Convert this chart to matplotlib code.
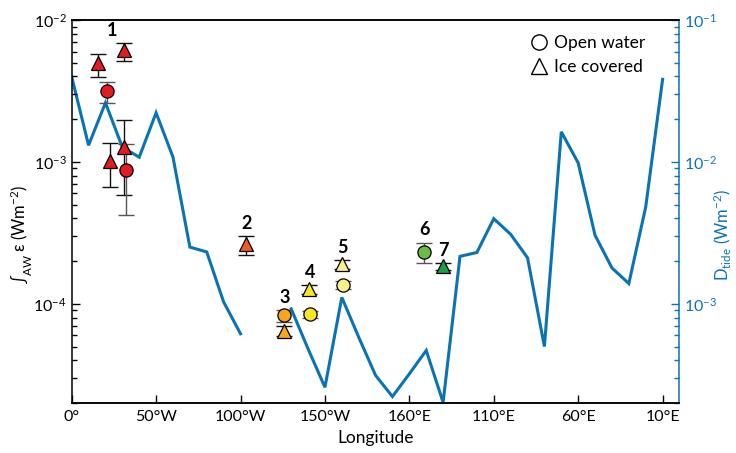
import numpy as np
import matplotlib
matplotlib.use("Agg")
import matplotlib.pyplot as plt
from matplotlib.lines import Line2D
from matplotlib.ticker import LogLocator, NullFormatter

plt.rcParams['font.family'] = ['Lato', 'DejaVu Sans']
plt.rcParams['mathtext.fontset'] = 'custom'
plt.rcParams['mathtext.rm'] = 'Lato'
plt.rcParams['mathtext.it'] = 'Lato:italic'
plt.rcParams['mathtext.bf'] = 'Lato:bold'

# ---------------- data ----------------
# tidal dissipation line (right axis), every 10 deg of "longitude distance"
tide_x = [0, 10, 20, 30, 40, 50, 60, 70, 80, 90, 100, 110, 120, 130, 140, 150,
          160, 170, 180, 190, 200, 210, 220, 230, 240, 250, 260, 270, 280, 290,
          300, 310, 320, 330, 340, 350]
tide_d = [0.0398, 0.0131, 0.0261, 0.0127, 0.0108, 0.0222, 0.0108, 0.00251,
          0.00232, 0.00103, 0.000615, np.nan, np.nan, 0.000922, 0.000482,
          0.000258, 0.00111, 0.000582, 0.000313, 0.000222, 0.000321, 0.000469,
          0.000202, 0.00216, 0.00230, 0.00398, 0.00309, 0.00211, 0.000500,
          0.0163, 0.00984, 0.00304, 0.00179, 0.00139, 0.00481, 0.0382]

# AW-integrated dissipation observations (left axis)
obs_site = [1, 1, 1, 1, 1, 1, 2, 3, 3, 4, 4, 5, 5, 6, 7]
obs_kind = ['ice', 'ice', 'open', 'ice', 'ice', 'open', 'ice', 'open', 'ice',
            'ice', 'open', 'ice', 'open', 'open', 'ice']
obs_x = [15.8, 31.2, 21.1, 22.7, 31.2, 32.2, 103.3, 126.0, 126.0, 140.8, 141.2,
         160.1, 160.5, 208.7, 220.1]
obs_val = [5.0e-3, 6.14e-3, 3.15e-3, 1.02e-3, 1.28e-3, 8.83e-4, 2.65e-4, 8.28e-5,
           6.41e-5, 1.28e-4, 8.41e-5, 1.92e-4, 1.36e-4, 2.32e-4, 1.84e-4]
obs_lo = [3.98e-3, 5.14e-3, 2.61e-3, 6.67e-4, 5.8e-4, 4.26e-4, 2.2e-4, 7.43e-5,
          5.9e-5, 1.18e-4, 7.9e-5, 1.77e-4, 1.27e-4, 1.94e-4, 1.74e-4]
obs_hi = [5.73e-3, 6.92e-3, 3.63e-3, 1.35e-3, 1.97e-3, 1.34e-3, 3.01e-4, 9.08e-5,
          7.0e-5, 1.35e-4, 8.95e-5, 2.02e-4, 1.45e-4, 2.70e-4, 1.94e-4]

site_colors = {1: '#e31b23', 2: '#f15a22', 3: '#f7a51c', 4: '#f7e723',
               5: '#faf08a', 6: '#6cbd45', 7: '#18a049'}

xtick_pos = [0, 50, 100, 150, 200, 250, 300, 350]
xtick_labels = ['0°', '50°W', '100°W', '150°W', '160°E', '110°E', '60°E', '10°E']

# ---------------- figure ----------------
BLUE = '#0a73b4'
fig = plt.figure(figsize=(7.36, 4.53), dpi=100)
ax = fig.add_axes([0.0974, 0.1104, 0.8258, 0.8454])
ax2 = ax.twinx()

ax2.plot(tide_x, tide_d, color=BLUE, lw=2.2, solid_joinstyle='miter', zorder=2)
ax2.set_yscale('log')
ax2.set_ylim(2e-4, 1e-1)

ax.set_zorder(ax2.get_zorder() + 1)
ax.patch.set_visible(False)

for i in range(len(obs_x)):
    c = site_colors[obs_site[i]]
    m = 'o' if obs_kind[i] == 'open' else '^'
    ecol = '#555555' if obs_kind[i] == 'open' else '#111111'
    yerr = [[obs_val[i] - obs_lo[i]], [obs_hi[i] - obs_val[i]]]
    ax.errorbar([obs_x[i]], [obs_val[i]], yerr=yerr, fmt='none', ecolor=ecol,
                elinewidth=1.0, capsize=5.5, capthick=1.0, zorder=3)
    ax.plot([obs_x[i]], [obs_val[i]], marker=m, ms=9.5 if m == 'o' else 10.5,
            mfc=c, mec='black', mew=0.9, ls='none', zorder=4)

# site labels above each group
obs_x_arr = np.array(obs_x)
obs_hi_arr = np.array(obs_hi)
obs_site_arr = np.array(obs_site)
for s in sorted(set(obs_site)):
    sel = obs_site_arr == s
    gx = (obs_x_arr[sel].min() + obs_x_arr[sel].max()) / 2
    gy = obs_hi_arr[sel].max()
    ax.annotate(str(s), (gx, gy), xytext=(0, 3), textcoords='offset points',
                ha='center', va='bottom', fontsize=13, fontweight='bold')

ax.set_yscale('log')
ax.set_ylim(2e-5, 1e-2)
ax.set_xlim(0, 360)
ax.set_xticks(xtick_pos)
ax.set_xticklabels(xtick_labels)
ax.set_xlabel('Longitude', fontsize=12.5)
ax.xaxis.set_label_coords(0.5, -0.07)
ax.set_ylabel(r'$\int_{\mathrm{AW}}$ ε (Wm$^{-2}$)', fontsize=12)
ax.yaxis.set_label_coords(-0.062, 0.44)

ax.tick_params(axis='x', direction='in', length=6, width=1, labelsize=11.5, pad=5, top=False)
ax.tick_params(axis='y', which='major', direction='in', length=6, width=1, labelsize=11.5)
ax.tick_params(axis='y', which='minor', direction='in', length=3.5, width=1)
ax.yaxis.set_minor_locator(LogLocator(base=10, subs=np.arange(2, 10)))
ax.yaxis.set_minor_formatter(NullFormatter())

ax2.tick_params(axis='y', which='major', direction='in', length=6, width=1,
                labelsize=11.5, colors=BLUE)
ax2.tick_params(axis='y', which='minor', direction='in', length=3.5, width=1, colors=BLUE)
ax2.yaxis.set_minor_locator(LogLocator(base=10, subs=np.arange(2, 10)))
ax2.yaxis.set_minor_formatter(NullFormatter())
ax2.set_ylabel(r'D$_{\mathrm{tide}}$ (Wm$^{-2}$)', color=BLUE, fontsize=12, rotation=90)
ax2.yaxis.set_label_coords(1.052, 0.44)

for sp in ['left', 'bottom', 'top']:
    ax.spines[sp].set_linewidth(1.1)
    ax2.spines[sp].set_linewidth(1.1)
ax.spines['right'].set_visible(False)
ax2.spines['right'].set_color(BLUE)
ax2.spines['right'].set_linewidth(1.1)
ax2.spines['left'].set_visible(False)

handles = [Line2D([], [], marker='o', ls='none', mfc='white', mec='black', mew=1, ms=11),
           Line2D([], [], marker='^', ls='none', mfc='white', mec='black', mew=1, ms=11)]
ax.legend(handles, ['Open water', 'Ice covered'], loc='upper right',
          bbox_to_anchor=(0.955, 0.978), frameon=False, fontsize=12.5,
          handlelength=0.9, handletextpad=0.4, labelspacing=0.45, borderaxespad=0)

fig.savefig('out.png', dpi=100)
